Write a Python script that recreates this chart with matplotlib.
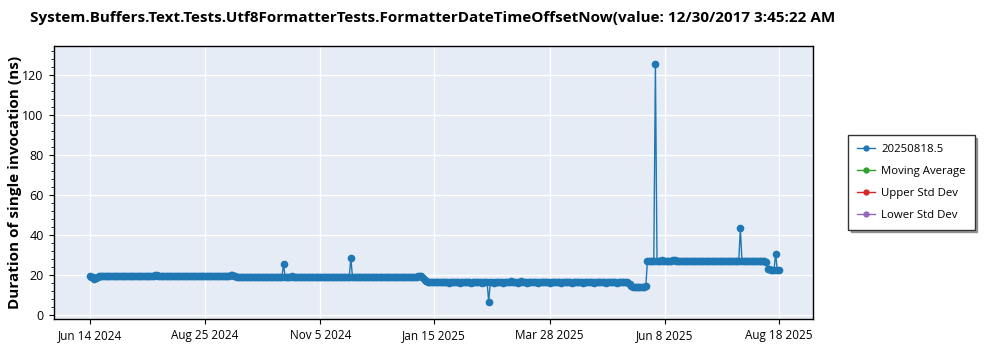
import matplotlib as mpl
mpl.use('Agg')
import matplotlib.pyplot as plt
from matplotlib.ticker import MultipleLocator
import pandas as pd

plt.rcParams['font.family'] = ['Open Sans', 'DejaVu Sans']

title = 'System.Buffers.Text.Tests.Utf8FormatterTests.FormatterDateTimeOffsetNow(value: 12/30/2017 3:45:22 AM'
legend_names = ['20250818.5', 'Moving Average', 'Upper Std Dev', 'Lower Std Dev']
tick_labels = ['Jun 14 2024', 'Aug 25 2024', 'Nov 5 2024', 'Jan 15 2025', 'Mar 28 2025', 'Jun 8 2025', 'Aug 18 2025']

# one run per day from Jun 14 2024 to Aug 18 2025
durations = [
    19.4, 19.2, 19.0, 18.3, 18.6, 19.3, 19.5, 19.4, 19.6, 19.5, 19.4, 19.6, 19.5, 19.4, 19.5, 19.6, 19.5, 19.4, 19.6, 19.5,
    19.6, 19.5, 19.4, 19.5, 19.6, 19.5, 19.7, 19.5, 19.4, 19.6, 19.5, 19.6, 19.4, 19.5, 19.6, 19.5, 19.4, 19.6, 19.5, 19.6,
    19.7, 20.0, 20.3, 19.8, 19.6, 19.5, 19.4, 19.6, 19.5, 19.4, 19.6, 19.5, 19.6, 19.4, 19.5, 19.6, 19.5, 19.4, 19.5, 19.6,
    19.5, 19.6, 19.4, 19.5, 19.7, 19.5, 19.6, 19.4, 19.5, 19.6, 19.5, 19.4, 19.6, 19.5, 19.7, 19.6, 19.5, 19.4, 19.6, 19.5,
    19.6, 19.4, 19.5, 19.6, 19.5, 19.7, 19.6, 19.8, 20.1, 20.3, 19.8, 19.5, 19.3, 19.2, 19.3, 19.2, 19.1, 19.3, 19.2, 19.1,
    19.2, 19.3, 19.1, 19.2, 19.3, 19.2, 19.1, 19.2, 19.3, 19.1, 19.2, 19.0, 19.2, 19.1, 19.3, 19.2, 19.1, 19.2, 19.0, 19.1,
    19.2, 25.6, 19.2, 19.1, 19.3, 19.2, 19.6, 19.3, 19.2, 19.1, 19.2, 19.0, 19.1, 19.2, 19.1, 19.0, 19.2, 19.1, 19.3, 19.1,
    19.2, 19.1, 19.0, 19.2, 19.1, 19.3, 19.2, 19.1, 19.0, 19.2, 19.1, 19.2, 19.0, 19.1, 19.2, 19.1, 19.3, 19.1, 19.2, 19.1,
    19.0, 19.2, 19.1, 28.6, 19.2, 19.1, 19.0, 19.2, 19.1, 19.3, 19.2, 19.1, 19.0, 19.2, 19.1, 19.0, 19.1, 19.2, 19.0, 19.1,
    19.2, 19.1, 19.0, 19.1, 19.2, 19.0, 19.1, 18.9, 19.0, 19.1, 19.0, 18.9, 19.1, 19.0, 18.9, 19.0, 19.1, 18.9, 19.0, 19.1,
    18.9, 19.0, 18.9, 19.1, 19.0, 19.4, 19.8, 19.6, 18.4, 17.4, 16.9, 16.7, 16.6, 16.5, 16.7, 16.5, 16.4, 16.6, 16.5, 16.4,
    16.5, 16.6, 16.4, 16.5, 16.3, 16.5, 16.4, 16.6, 16.5, 16.4, 16.5, 16.3, 16.4, 16.5, 16.4, 16.6, 16.5, 16.4, 16.3, 16.5,
    16.4, 16.5, 16.6, 16.4, 16.5, 16.3, 16.4, 16.5, 16.4, 6.8, 16.5, 16.4, 16.3, 16.5, 16.4, 16.6, 16.5, 16.4, 16.3, 16.5,
    16.4, 16.5, 16.6, 17.2, 16.6, 16.4, 16.5, 16.3, 16.4, 17.1, 16.6, 16.4, 16.5, 16.3, 16.4, 16.5, 16.4, 16.6, 16.5, 16.4,
    16.3, 16.5, 16.4, 16.5, 16.6, 16.4, 16.5, 16.3, 16.4, 16.5, 16.4, 16.6, 16.5, 16.4, 16.3, 16.5, 16.4, 16.5, 16.6, 16.4,
    16.5, 16.3, 16.4, 16.5, 16.4, 16.6, 16.5, 16.4, 16.3, 16.5, 16.4, 16.5, 16.6, 16.4, 16.5, 16.3, 16.4, 16.5, 16.4, 16.6,
    16.5, 16.4, 16.3, 16.5, 16.4, 16.5, 16.6, 16.4, 16.5, 16.3, 16.4, 16.5, 16.4, 16.6, 16.5, 16.4, 16.2, 15.6, 14.8, 14.3,
    14.1, 14.0, 14.2, 14.1, 14.0, 14.1, 14.2, 14.4, 27.0, 27.2, 27.1, 27.3, 27.2, 125.6, 27.1, 27.3, 27.2, 27.4, 27.2, 27.1,
    27.2, 27.0, 27.1, 27.3, 27.5, 27.4, 27.2, 27.1, 27.0, 27.2, 27.1, 27.0, 26.9, 27.1, 27.0, 27.2, 27.1, 26.9, 27.0, 27.1,
    27.0, 26.9, 27.1, 27.0, 27.2, 27.1, 26.9, 27.0, 27.1, 27.0, 26.9, 27.1, 27.0, 27.2, 27.1, 27.0, 26.9, 27.1, 27.0, 27.2,
    27.1, 27.3, 27.2, 27.1, 27.0, 27.2, 43.5, 27.1, 27.0, 27.2, 27.1, 27.0, 26.9, 27.1, 27.0, 27.2, 27.1, 27.3, 27.2, 27.0,
    27.1, 26.9, 26.7, 23.2, 23.0, 22.8, 22.7, 22.6, 30.8, 22.6, 22.5,
]
dates = pd.date_range('2024-06-14', periods=len(durations), freq='D')

fig = plt.figure(figsize=(10, 3.5), dpi=100)
ax = fig.add_axes([0.0535, 0.088, 0.7598, 0.78])
ax.set_facecolor('#E5ECF6')

ax.plot(dates, durations, color='#1f77b4', marker='o', markersize=4.5, linewidth=1, label=legend_names[0])

ax.set_ylim(-2, 134.6)
ax.set_xlim(pd.Timestamp('2024-05-22 12:00'), pd.Timestamp('2025-09-08 12:00'))

ax.set_xticks(pd.to_datetime(tick_labels, format='%b %d %Y'))
ax.set_xticklabels(tick_labels, fontsize=8.5)
ax.yaxis.set_major_locator(MultipleLocator(20))
ax.yaxis.set_minor_locator(MultipleLocator(4))
ax.tick_params(axis='y', labelsize=9)
ax.grid(True, color='white', linewidth=1)
ax.set_axisbelow(True)
for s in ax.spines.values():
    s.set_color('black')
    s.set_linewidth(1)

ax.set_ylabel('Duration of single invocation (ns)', fontsize=11, fontweight='bold')
ax.yaxis.set_label_coords(-0.042, 0.5)
fig.text(0.03, 0.949, title, fontsize=11, fontweight='bold', ha='left', va='center')

# legend entries
colors = ['#1f77b4', '#2ca02c', '#d62728', '#9467bd']
handles = [plt.Line2D([], [], color=c, marker='o', markersize=3.5, linewidth=1) for c in colors]
leg = fig.legend(handles, legend_names, loc='center left', bbox_to_anchor=(0.848, 0.479),
                 fontsize=8.2, frameon=True, fancybox=False, shadow=True, handlelength=1.6,
                 handletextpad=0.5, borderpad=0.8, labelspacing=0.95, borderaxespad=0)
leg.get_frame().set_edgecolor('#333333')

plt.savefig('out.png', dpi=100)
plt.close()
